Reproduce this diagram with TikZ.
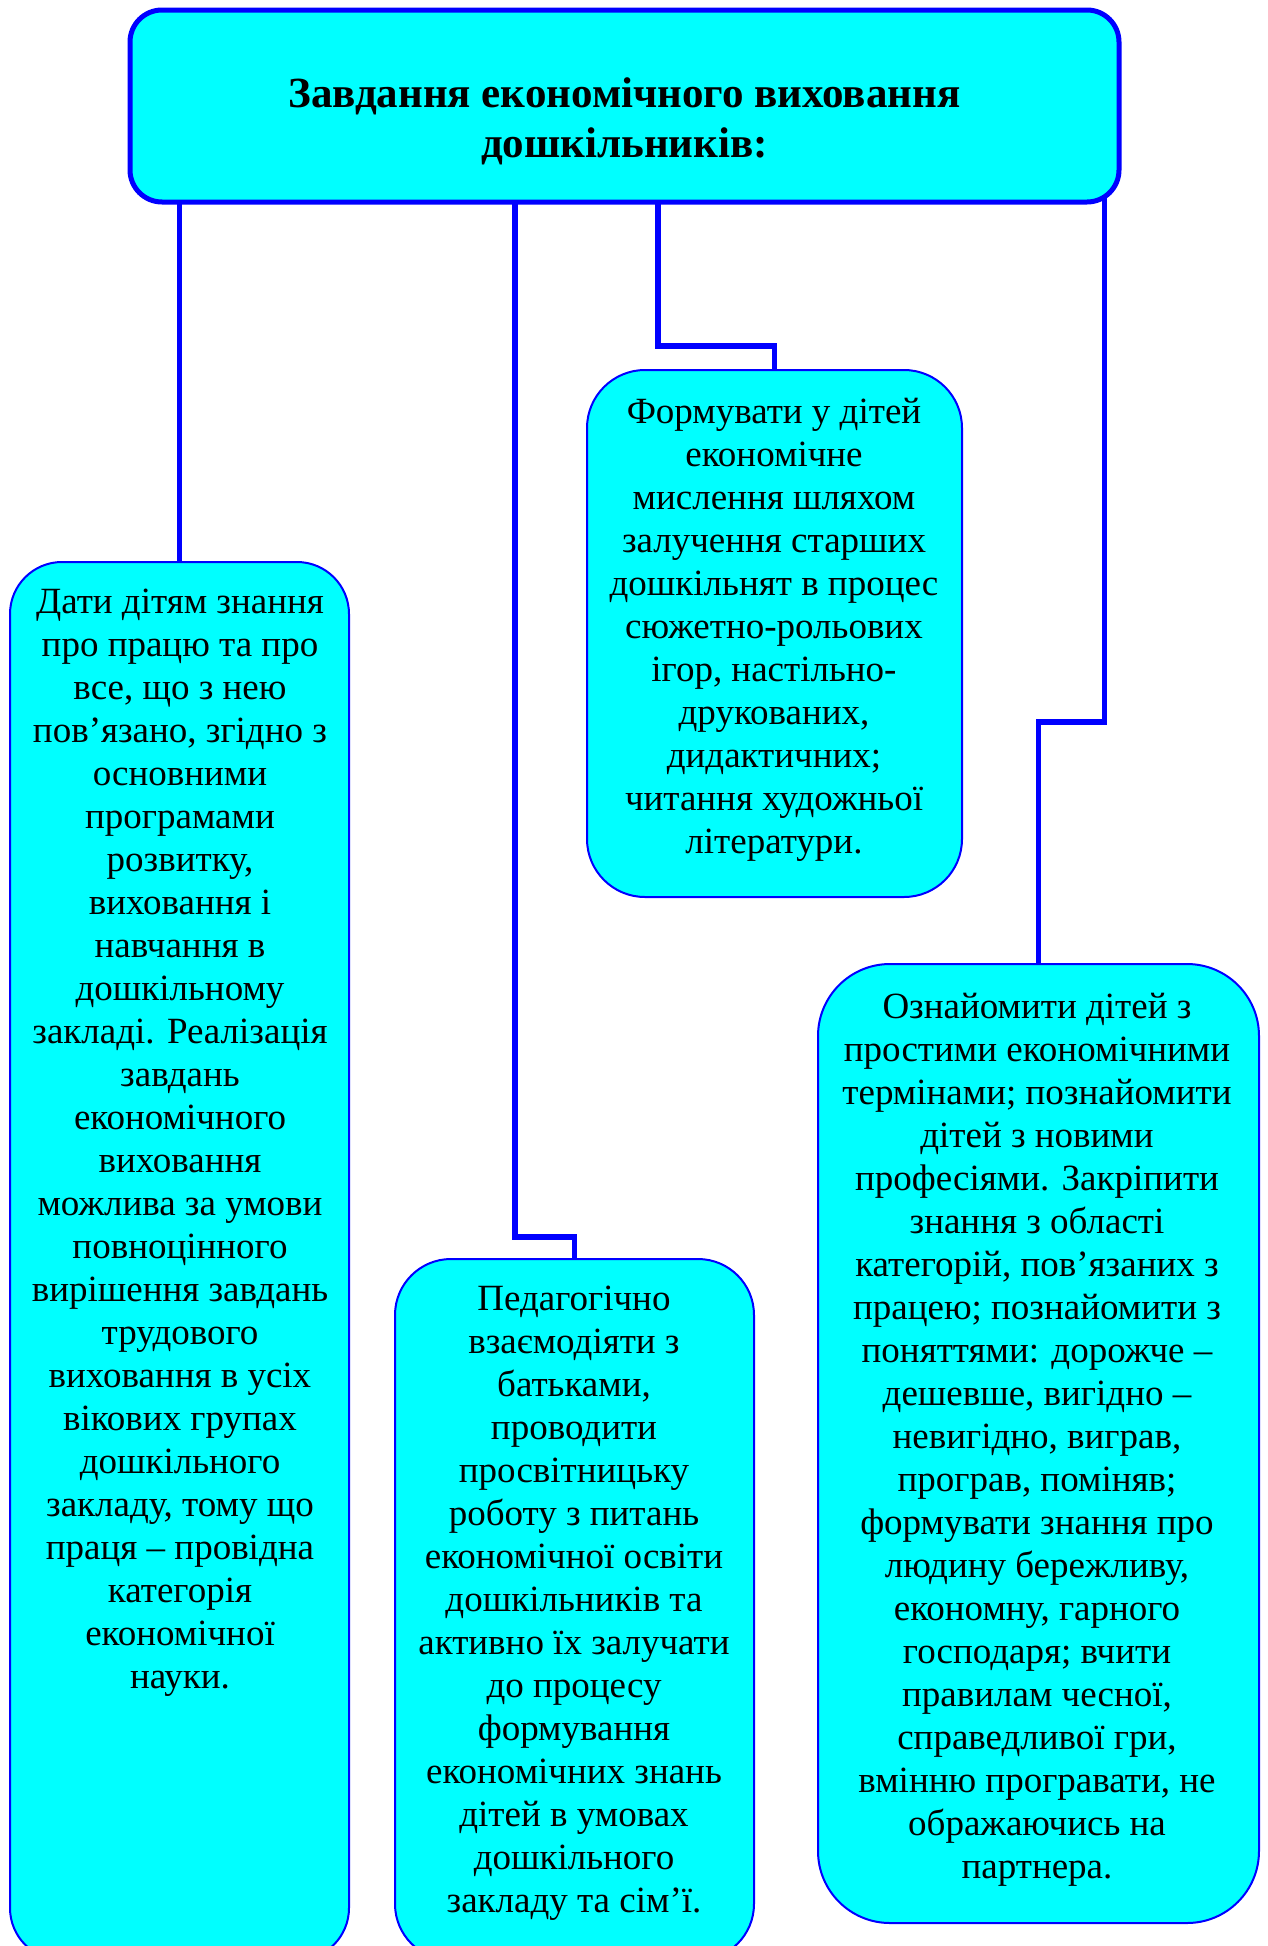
\documentclass[tikz,border=0pt]{standalone}
\usepackage{fontspec}
\setmainfont{Liberation Serif}
\usetikzlibrary{backgrounds}
\definecolor{boxcyan}{RGB}{0,255,255}
\definecolor{lineblue}{RGB}{0,0,255}
\begin{document}
\begin{tikzpicture}[x=1pt,y=-1pt,
 box/.style={draw=lineblue,fill=boxcyan,line width=2pt,inner sep=0pt,rectangle},
 conn/.style={draw=lineblue,line width=5.5pt},
 body/.style={align=center,inner sep=0pt,anchor=north,font=\fontsize{37}{43}\selectfont},
 ttl/.style={align=center,inner sep=0pt,anchor=north,font=\fontsize{43}{50}\selectfont\bfseries}]
\clip (0,0) rectangle (1268,1946);
% boxes
\node[box,line width=5pt,rounded corners=32pt,minimum width=989pt,minimum height=192pt] (top) at (624.5,106) {};
\node[box,rounded corners=52pt,minimum width=339pt,minimum height=1398pt] (lb) at (179.5,1261) {};
\node[box,rounded corners=58pt,minimum width=375pt,minimum height=527pt] (mt) at (774.5,633.5) {};
\node[box,rounded corners=56pt,minimum width=359pt,minimum height=701pt] (mb) at (574.5,1609.5) {};
\node[box,rounded corners=72pt,minimum width=441pt,minimum height=959pt] (rb) at (1038.5,1443.5) {};
% texts
\node[ttl] (title) at (624.5,77) {Завдання економічного виховання\\дошкільників:};
\node[body] (lt) at (180,589) {Дати дітям знання\\про працю та про\\все, що з нею\\пов’язано, згідно з\\основними\\програмами\\розвитку,\\виховання і\\навчання в\\дошкільному\\закладі. Реалізація\\завдань\\економічного\\виховання\\можлива за умови\\повноцінного\\вирішення завдань\\трудового\\виховання в усіх\\вікових групах\\дошкільного\\закладу, тому що\\праця – провідна\\категорія\\економічної\\науки.};
\node[body] (mtt) at (774,398) {Формувати у дітей\\економічне\\мислення шляхом\\залучення старших\\дошкільнят в процес\\сюжетно-рольових\\ігор, настільно-\\друкованих,\\дидактичних;\\читання художньої\\літератури.};
\node[body] (mbt) at (574,1286) {Педагогічно\\взаємодіяти з\\батьками,\\проводити\\просвітницьку\\роботу з питань\\економічної освіти\\дошкільників та\\активно їх залучати\\до процесу\\формування\\економічних знань\\дітей в умовах\\дошкільного\\закладу та сім’ї.};
\node[body] (rbt) at (1037,993) {Ознайомити дітей з\\простими економічними\\термінами; познайомити\\дітей з новими\\професіями. Закріпити\\знання з області\\категорій, пов’язаних з\\працею; познайомити з\\поняттями: дорожче –\\дешевше, вигідно –\\невигідно, виграв,\\програв, поміняв;\\формувати знання про\\людину бережливу,\\економну, гарного\\господаря; вчити\\правилам чесної,\\справедливої гри,\\вмінню програвати, не\\ображаючись на\\партнера.};
% connectors
\coordinate (k2) at (515,1237);
\coordinate (k3) at (658,346);
\coordinate (k4) at (1104.5,722);
\begin{pgfonlayer}{background}
\draw[conn] (top.center -| lb.north) -- (lb.north);
\draw[conn] (top.center -| k2) -- (k2) -| (mb.north);
\draw[conn] (top.center -| k3) -- (k3) -| (mt.north);
\draw[conn] (top.center -| k4) -- (k4) -| (rb.north);
\end{pgfonlayer}
\end{tikzpicture}
\end{document}
